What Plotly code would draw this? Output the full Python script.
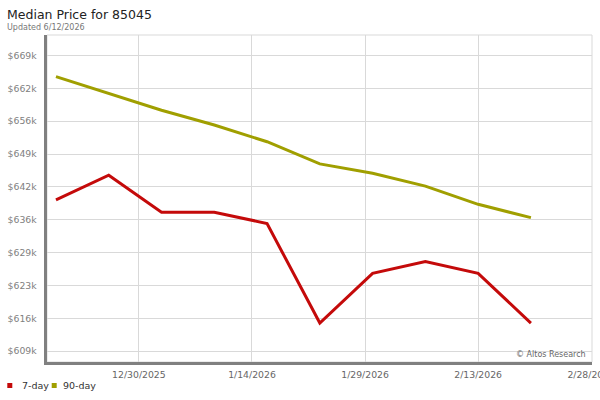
import plotly.graph_objects as go

# ---- data ----
dates = ["2025-12-19", "2025-12-26", "2026-01-02", "2026-01-09", "2026-01-16",
         "2026-01-23", "2026-01-30", "2026-02-06", "2026-02-13", "2026-02-20"]
price_7day = [639700, 644700, 637200, 637200, 634900, 614700, 624800, 627200, 624800, 614700]
price_90day = [664700, 661300, 657900, 654900, 651500, 647000, 645100, 642500, 638800, 636100]

y_tick_labels = ["$609k", "$616k", "$623k", "$629k", "$636k", "$642k", "$649k", "$656k", "$662k", "$669k"]
y_tick_low, y_tick_high = 609000, 669000
x_tick_dates = ["2025-12-30", "2026-01-14", "2026-01-29", "2026-02-13", "2026-02-28"]
x_tick_labels = ["12/30/2025", "1/14/2026", "1/29/2026", "2/13/2026", "2/28/2026"]

series_names = ["7-day", "90-day"]
colors = ["#c40a0a", "#a09f00"]

# ---- geometry (pixels) ----
W_FIG, H_FIG = 600, 400
L, R, T, B = 47, 592, 35, 362
PW, PH = R - L, B - T

def px_x(px):
    return (px - L) / PW

def px_y(py):
    return (B - py) / PH

n = len(y_tick_labels)
y_tickvals = [y_tick_low + i * (y_tick_high - y_tick_low) / (n - 1) for i in range(n)]

FONT = "DejaVu Sans"

fig = go.Figure()
for name, vals, col in [(series_names[0], price_7day, colors[0]),
                        (series_names[1], price_90day, colors[1])]:
    fig.add_trace(go.Scatter(x=dates, y=vals, mode="lines", name=name,
                             line=dict(color=col, width=3), showlegend=False,
                             hoverinfo="skip"))

fig.update_layout(
    width=W_FIG, height=H_FIG,
    margin=dict(l=L, r=W_FIG - R, t=T, b=H_FIG - B, pad=0, autoexpand=False),
    paper_bgcolor="white", plot_bgcolor="white",
    font=dict(family=FONT, size=9.3, color="#666666"),
    xaxis=dict(type="date", range=["2025-12-17 19:26", "2026-02-28 02:30"],
               tickvals=x_tick_dates, ticktext=x_tick_labels,
               ticklabeloverflow="allow", automargin=False,
               showgrid=True, gridcolor="#d9d9d9", gridwidth=1,
               showline=True, linecolor="#808080", linewidth=3,
               ticks="outside", ticklen=2, tickcolor="rgba(0,0,0,0)",
               tickfont=dict(size=9.3, color="#666666"), zeroline=False),
    yaxis=dict(range=[606800, 673160], tickvals=y_tickvals, ticktext=y_tick_labels,
               automargin=False,
               showgrid=True, gridcolor="#d9d9d9", gridwidth=1,
               showline=True, linecolor="#808080", linewidth=3,
               ticks="outside", ticklen=5.5, tickcolor="rgba(0,0,0,0)",
               tickfont=dict(size=9.3, color="#808080"), zeroline=False),
    showlegend=False,
    hovermode=False,
)

# light frame around plot area
fig.add_shape(type="rect", xref="paper", yref="paper", x0=0, x1=1, y0=0, y1=1,
              line=dict(color="#d9d9d9", width=1), layer="below")

annotations = [
    dict(text="Median Price for 85045", x=px_x(6), y=px_y(14.5), xanchor="left", yanchor="middle",
         font=dict(family=FONT, size=12.5, color="#222222")),
    dict(text="Updated 6/12/2026", x=px_x(6), y=px_y(27), xanchor="left", yanchor="middle",
         font=dict(family=FONT, size=8, color="#777777")),
    dict(text="© Altos Research", x=px_x(587), y=px_y(354.5), xanchor="right", yanchor="middle",
         font=dict(family=FONT, size=8, color="#666666")),
]
# legend
leg_sq = [(7.3, 12.3), (51.7, 56.7)]
leg_txt_x = [21.3, 62.3]
for (x0, x1), tx, name, col in zip(leg_sq, leg_txt_x, series_names, colors):
    fig.add_shape(type="rect", xref="paper", yref="paper",
                  x0=px_x(x0), x1=px_x(x1), y0=px_y(388), y1=px_y(383),
                  line=dict(width=0), fillcolor=col)
    annotations.append(dict(text=name, x=px_x(tx), y=px_y(385.5), xanchor="left", yanchor="middle",
                            font=dict(family=FONT, size=9.5, color="#333333")))

for a in annotations:
    a.update(xref="paper", yref="paper", showarrow=False, borderpad=0)
fig.update_layout(annotations=annotations)

fig.write_html("out.html", config={"displayModeBar": False},
               post_script="document.body.style.margin='0';")
